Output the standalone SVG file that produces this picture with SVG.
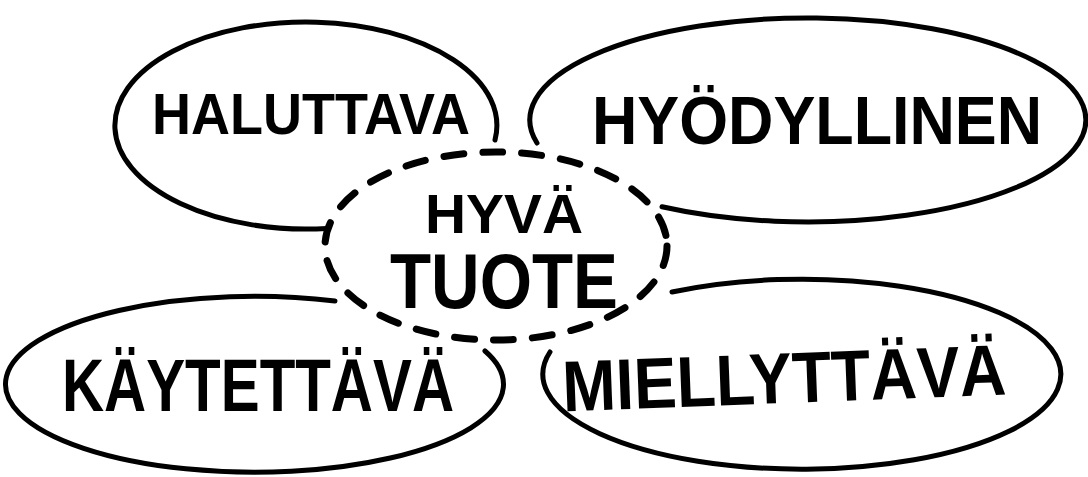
<svg xmlns="http://www.w3.org/2000/svg" width="1088" height="477" viewBox="0 0 1088 477">
<style>
.bubble{fill:none;stroke:#000;stroke-width:5;stroke-linecap:round}
.dash{fill:none;stroke:#000;stroke-width:7;stroke-linecap:round;stroke-dasharray:20 19}
.lbl{font-family:"Liberation Sans","DejaVu Sans",sans-serif;font-weight:bold;fill:#000}
</style>
<rect width="1088" height="477" fill="#fff"/>
<g id="connectors"></g>
<g id="node-haluttava">
<path class="bubble" d="M495,140 A191,103.5 0 1 0 327,228.4"/>
<text class="lbl" x="152" y="134" font-size="57" textLength="318" lengthAdjust="spacingAndGlyphs">HALUTTAVA</text>
</g>
<g id="node-hyodyllinen">
<path class="bubble" d="M537,143 A278,102 0 1 1 662,206.8"/>
<text class="lbl" x="592" y="144" font-size="68" textLength="450" lengthAdjust="spacingAndGlyphs">HYÖDYLLINEN</text>
</g>
<g id="node-kaytettava">
<path class="bubble" d="M485,351 A249,88 0 1 1 335,301"/>
<text class="lbl" x="62" y="411" font-size="74" textLength="392" lengthAdjust="spacingAndGlyphs">KÄYTETTÄVÄ</text>
</g>
<g id="node-miellyttava">
<path class="bubble" d="M672,292 A259,95 0 1 1 550,352"/>
<text class="lbl" x="563" y="403" font-size="72" textLength="444" lengthAdjust="spacingAndGlyphs" transform="rotate(-2.2 785 400)">MIELLYTTÄVÄ</text>
</g>
<g id="node-hyva-tuote">
<ellipse class="dash" cx="496" cy="246" rx="171" ry="94"/>
<text class="lbl"><tspan x="425" y="233" font-size="56" textLength="158" lengthAdjust="spacingAndGlyphs">HYVÄ</tspan><tspan x="390" y="308" font-size="78" textLength="228" lengthAdjust="spacingAndGlyphs">TUOTE</tspan></text>
</g>
</svg>
